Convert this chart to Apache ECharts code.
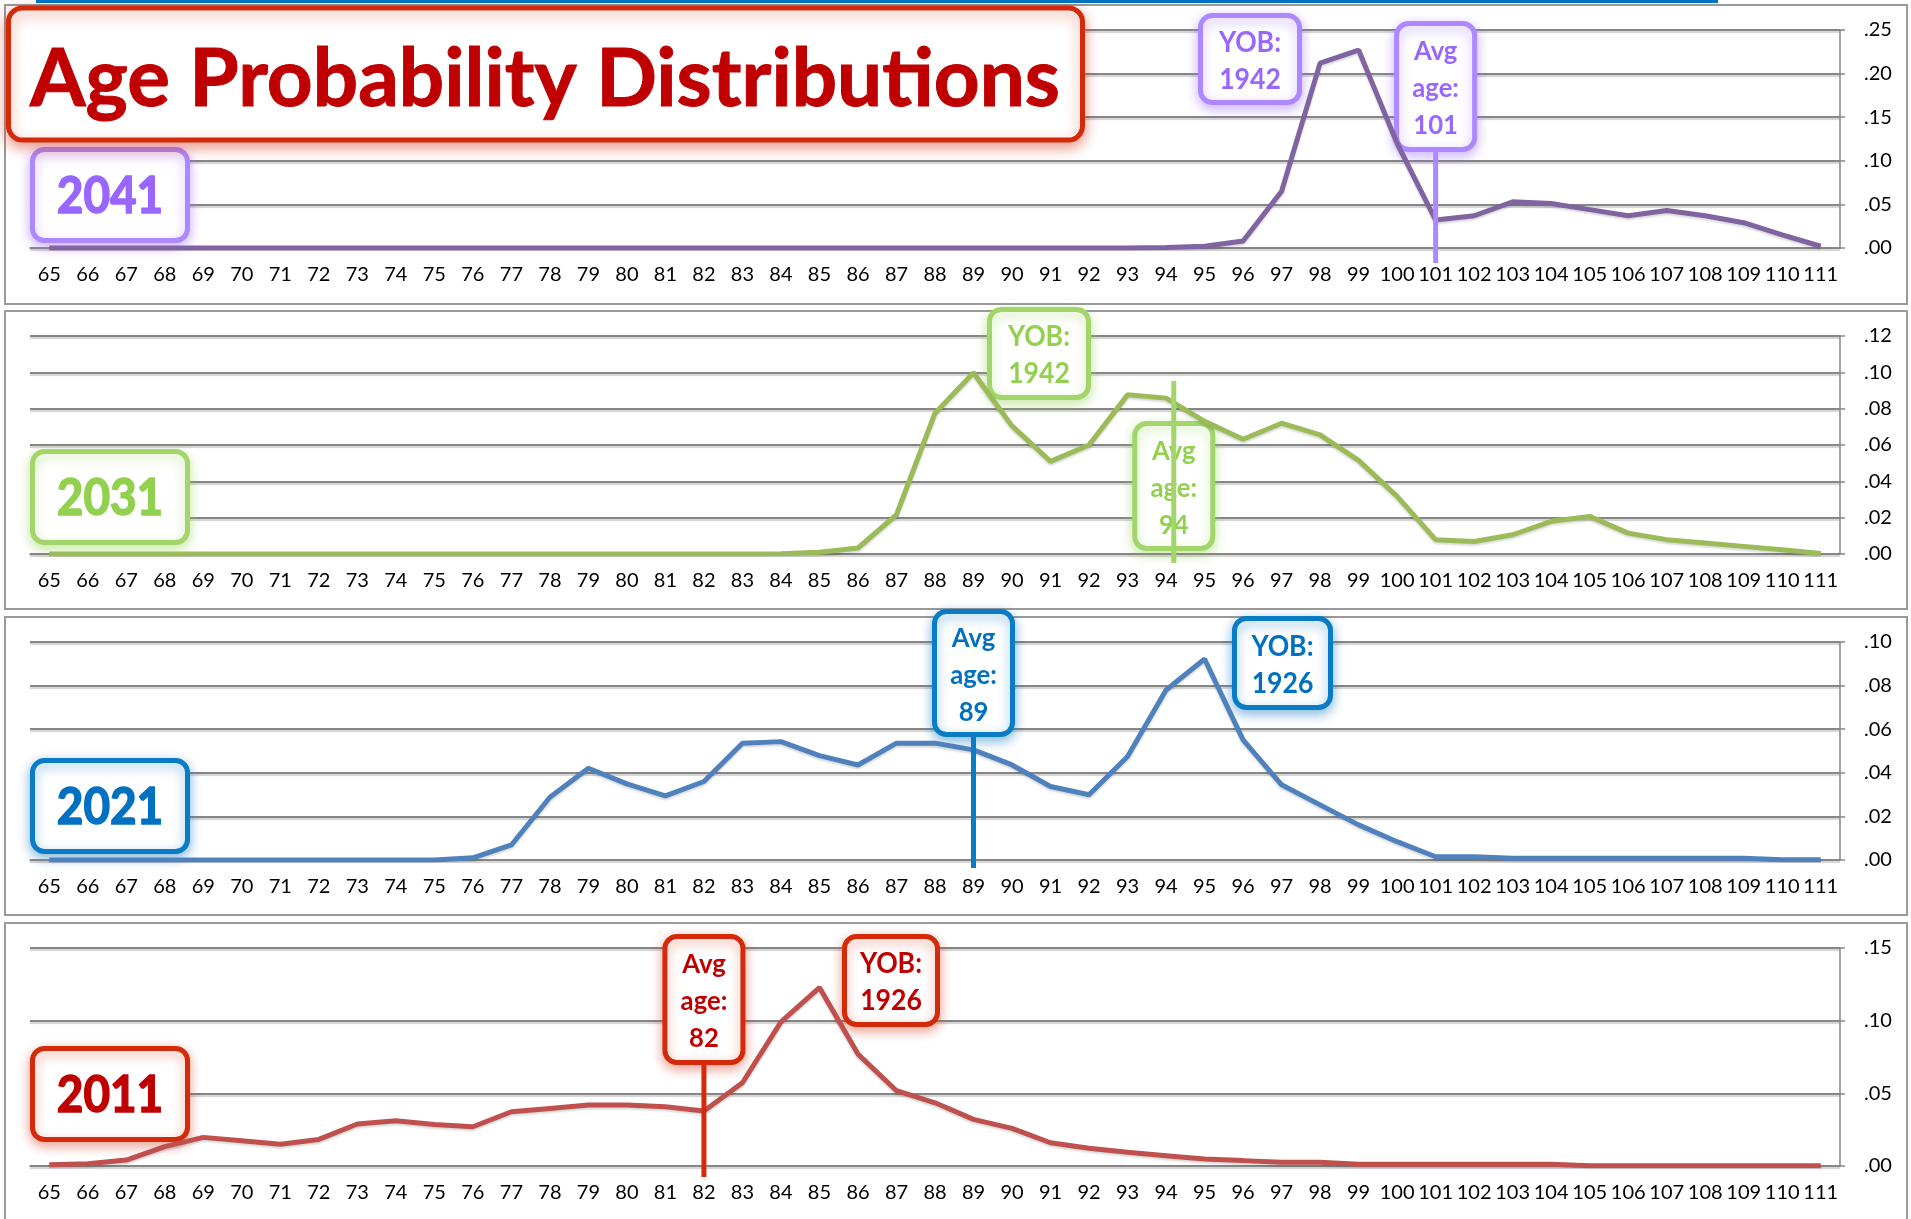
<!DOCTYPE html>
<html>
<head>
<meta charset="utf-8">
<title>Age Probability Distributions</title>
<script src="https://cdn.jsdelivr.net/npm/echarts@6/dist/echarts.min.js"></script>
<style>
  html, body { margin: 0; padding: 0; background: #fff; }
  #chart { width: 1911px; height: 1219px; }
</style>
</head>
<body>
<div id="chart"></div>
<script>
// ages on the x axis
var ages = []
for (var a = 65; a <= 111; a++) ages.push(String(a))

// probability of each age, one array per projection year
var pct2041 = [0,0,0,0,0,0,0,0,0,0,0,0,0,0,0,0,0,0,0,0,0,0,0,0,0,0,0,0,
  0, 0.0005, 0.002, 0.008, 0.065, 0.212, 0.227, 0.12, 0.032, 0.037, 0.053, 0.051, 0.044, 0.037, 0.043, 0.037, 0.029, 0.015, 0.002]
var pct2031 = [0,0,0,0,0,0,0,0,0,0,0,0,0,0,0,0,0,0,0,
  0.0002, 0.001, 0.0033, 0.0216, 0.0775, 0.0998, 0.0705, 0.051, 0.06, 0.0876, 0.0858, 0.073, 0.0632, 0.072, 0.0656,
  0.0515, 0.0317, 0.0079, 0.0069, 0.0106, 0.018, 0.0207, 0.0115, 0.0079, 0.006, 0.0042, 0.0024, 0.0003]
var pct2021 = [0,0,0,0,0,0,0,0,0,0,0,
  0.001, 0.0069, 0.0288, 0.0421, 0.0349, 0.0294, 0.036, 0.0536, 0.0543, 0.0479, 0.0436, 0.0536, 0.0536, 0.0505, 0.0436,
  0.0337, 0.0299, 0.0475, 0.078, 0.0922, 0.0551, 0.0345, 0.0253, 0.0161, 0.0084, 0.0015, 0.0015, 0.0008, 0.0008, 0.0008,
  0.0008, 0.0008, 0.0008, 0.0008, 0.0001, 0.0001]
var pct2011 = [0.0008, 0.0016, 0.0041, 0.0133, 0.0197, 0.0174, 0.0149, 0.0183, 0.0289, 0.0311, 0.0286, 0.027, 0.0373,
  0.0396, 0.0419, 0.0419, 0.0408, 0.0378, 0.0573, 0.0992, 0.1228, 0.077, 0.0518, 0.0435, 0.0321, 0.0259, 0.016, 0.0122,
  0.0094, 0.0071, 0.0048, 0.0037, 0.0025, 0.0025, 0.0012, 0.0012, 0.0012, 0.0012, 0.0012, 0.0012, 0.0002, 0.0002, 0.0002,
  0.0002, 0.0002, 0.0002, 0.0002]

// panel annotations, top to bottom
var years = ['2041', '2031', '2021', '2011']
var yobLabels = ['1942', '1942', '1926', '1926']
var avgAges = [101, 94.2, 89, 82]
var yMax = [0.25, 0.12, 0.10, 0.15]
var yStep = [0.05, 0.02, 0.02, 0.05]

var seriesData = [pct2041, pct2031, pct2021, pct2011]
var lineColors = ['#8064a2', '#9bbb59', '#4f81bd', '#c0504d']
var textColors = ['#9966ff', '#92d050', '#0070c0', '#c00000']
var borderColors = ['#ae88ff', '#a2d66a', '#0a7cc6', '#d42a0a']
var glowColors = ['rgba(150,100,255,0.45)', 'rgba(146,208,80,0.45)', 'rgba(0,112,192,0.45)', 'rgba(212,42,10,0.4)']

var gridTops = [30, 336, 642, 948]
var FONT = 'Lato, "Open Sans", sans-serif'
var AXIS_GRAY = '#868686'

var chart = echarts.init(document.getElementById('chart'))

var grids = [], xAxes = [], yAxes = [], series = []
for (var i = 0; i < 4; i++) {
  grids.push({ left: 30, right: 71, top: gridTops[i], height: 218 })
  xAxes.push({
    type: 'category',
    gridIndex: i,
    data: ages,
    boundaryGap: true,
    axisLine: { lineStyle: { color: AXIS_GRAY, width: 1.5 } },
    axisTick: { length: 5, lineStyle: { color: AXIS_GRAY, width: 1.5 } },
    axisLabel: { interval: 0, color: '#000', fontFamily: FONT, fontSize: 20, margin: 17 }
  })
  yAxes.push({
    type: 'value',
    gridIndex: i,
    position: 'right',
    min: 0,
    max: yMax[i],
    interval: yStep[i],
    axisLine: { show: true, lineStyle: { color: AXIS_GRAY, width: 1.5 } },
    axisTick: { show: true, length: 5, lineStyle: { color: AXIS_GRAY, width: 1.5 } },
    splitLine: {
      lineStyle: { color: AXIS_GRAY, width: 2, shadowColor: 'rgba(0,0,0,0.18)', shadowOffsetY: 2, shadowBlur: 1 }
    },
    axisLabel: {
      color: '#000', fontFamily: FONT, fontSize: 20, margin: 24,
      formatter: function (v) { return v.toFixed(2).replace(/^0/, '') }
    }
  })
  series.push({
    type: 'line',
    xAxisIndex: i,
    yAxisIndex: i,
    data: seriesData[i],
    symbol: 'none',
    animation: false,
    z: 5,
    lineStyle: {
      width: 5, color: lineColors[i],
      shadowColor: 'rgba(0,0,0,0.15)', shadowOffsetY: 2, shadowBlur: 2
    }
  })
}

chart.setOption({
  animation: false,
  backgroundColor: '#fff',
  grid: grids,
  xAxis: xAxes,
  yAxis: yAxes,
  series: series
})

// x pixel of a (possibly fractional) age on panel i
function ageToX(i, age) {
  var idx = age - 65
  var lo = Math.floor(idx)
  var p0 = chart.convertToPixel({ xAxisIndex: i }, lo)
  if (idx === lo) return p0
  var p1 = chart.convertToPixel({ xAxisIndex: i }, lo + 1)
  return p0 + (idx - lo) * (p1 - p0)
}

function labelBox(x, y, w, h, text, i, fontSize, lineHeight, sx, heavy) {
  var cx = x + w / 2, cy = y + h / 2 + 2
  var textStyle = {
    text: text, x: 0, y: 0,
    align: 'center', verticalAlign: 'middle',
    font: 'bold ' + fontSize + 'px ' + FONT,
    lineHeight: lineHeight,
    fill: textColors[i]
  }
  if (heavy) {
    textStyle.stroke = textColors[i]
    textStyle.lineWidth = heavy
  }
  return {
    type: 'group',
    z: 100,
    children: [{
      type: 'rect',
      shape: { x: x, y: y, width: w, height: h, r: 12 },
      style: {
        fill: '#fff', stroke: borderColors[i], lineWidth: 5,
        shadowBlur: 12, shadowColor: glowColors[i], shadowOffsetY: 4
      }
    }, {
      type: 'text',
      x: cx, y: cy,
      scaleX: sx || 1,
      style: textStyle
    }]
  }
}

var graphics = []

// panel frames
var panelTops = [5, 311, 617, 923]
var panelBottoms = [304, 609, 915, 1230]
for (var p = 0; p < 4; p++) {
  graphics.push({
    type: 'rect', z: -10,
    shape: { x: 5, y: panelTops[p], width: 1902, height: panelBottoms[p] - panelTops[p] },
    style: { fill: 'none', stroke: '#9a9a9a', lineWidth: 2 }
  })
}

// thin blue rule along the top edge
graphics.push({
  type: 'line', z: 50,
  shape: { x1: 36, y1: 1.5, x2: 1718, y2: 1.5 },
  style: { stroke: '#0070c0', lineWidth: 3 }
})

// average-age markers and boxes
var avgLineTop = [150, 381, 736, 1064]
var avgLineBottom = [263, 563, 868, 1177]
var avgBoxTop = [21, 421, 609, 934]
var avgBoxH = [131, 130, 128, 131]
var yobBox = [[1198, 13, 104, 92], [987, 307, 104, 93], [1232, 616, 101, 94], [842, 934, 98, 93]]
var yearBoxTop = [147, 449, 758, 1046]

for (var k = 0; k < 4; k++) {
  var ax = ageToX(k, avgAges[k])
  graphics.push({
    type: 'line', z: 90,
    shape: { x1: ax, y1: avgLineTop[k], x2: ax, y2: avgLineBottom[k] },
    style: { stroke: borderColors[k], lineWidth: 5 }
  })
  graphics.push(labelBox(ax - 39, avgBoxTop[k] + 2.5, 78, avgBoxH[k] - 5,
    'Avg\nage:\n' + Math.floor(avgAges[k]), k, 27, 37, 0.95))
  var b = yobBox[k]
  graphics.push(labelBox(b[0] + 2.5, b[1] + 2.5, b[2] - 5, b[3] - 5, 'YOB:\n' + yobLabels[k], k, 28, 37, 0.95))
  graphics.push(labelBox(32.5, yearBoxTop[k] + 2.5, 155, 91, years[k], k, 51, 51, 0.9, 1.5))
}

// title banner
graphics.push({
  type: 'group', z: 120,
  children: [{
    type: 'rect',
    shape: { x: 8.5, y: 8, width: 1074, height: 132, r: 14 },
    style: {
      fill: '#fff', stroke: '#d42a0a', lineWidth: 5,
      shadowBlur: 14, shadowColor: 'rgba(212,42,10,0.45)', shadowOffsetY: 5
    }
  }, {
    type: 'text',
    x: 545, y: 80,
    style: {
      text: 'Age Probability Distributions', x: 0, y: 0,
      align: 'center', verticalAlign: 'middle',
      font: 'bold 80px ' + FONT, fill: '#c00000',
      stroke: '#c00000', lineWidth: 1
    }
  }]
})

chart.setOption({ graphic: graphics })
</script>
</body>
</html>
